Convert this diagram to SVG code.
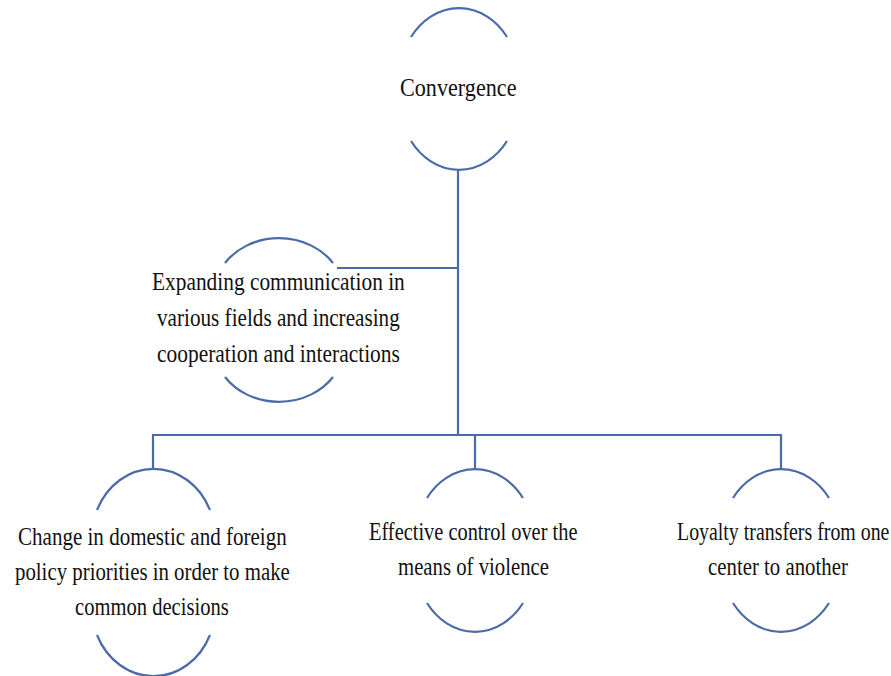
<svg xmlns="http://www.w3.org/2000/svg" width="891" height="676" viewBox="0 0 891 676">
<style>
.arc{fill:none;stroke:#4a6aa8;stroke-width:2.2}
.con{fill:none;stroke:#4a6aa8;stroke-width:2.2}
.t{font-family:"Liberation Serif","Times New Roman",serif;font-size:25px;fill:#111}
</style>
<rect width="891" height="676" fill="#fff"/>
<g id="connectors">
<path class="con" d="M458,169 V435"/>
<path class="con" d="M337,268 H458"/>
<path class="con" d="M153,468 V435 H781 V468"/>
<path class="con" d="M475,435 V468"/>
</g>
<g id="convergence">
<path class="arc" d="M411,37 A60,72 0 0 1 507,37"/>
<path class="arc" d="M411,141 A60,72 0 0 0 507,141"/>
<text class="t" transform="translate(400,96) scale(0.887,1)">Convergence</text>
</g>
<g id="expanding">
<path class="arc" d="M225,263 A65,56 0 0 1 333,263"/>
<path class="arc" d="M225,377 A65,56 0 0 0 333,377"/>
<text class="t" transform="translate(152,290) scale(0.855,1)">Expanding communication in</text>
<text class="t" transform="translate(157,326) scale(0.847,1)">various fields and increasing</text>
<text class="t" transform="translate(157,362) scale(0.858,1)">cooperation and interactions</text>
</g>
<g id="change">
<path class="arc" d="M97,510 A62,70 0 0 1 210,510"/>
<path class="arc" d="M97,635 A62,70 0 0 0 210,635"/>
<text class="t" transform="translate(18,545) scale(0.842,1)">Change in domestic and foreign</text>
<text class="t" transform="translate(15,580) scale(0.834,1)">policy priorities in order to make</text>
<text class="t" transform="translate(75,615) scale(0.824,1)">common decisions</text>
</g>
<g id="effective">
<path class="arc" d="M427,498 A60,72 0 0 1 523,498"/>
<path class="arc" d="M427,603 A60,72 0 0 0 523,603"/>
<text class="t" transform="translate(369,540) scale(0.816,1)">Effective control over the</text>
<text class="t" transform="translate(398,575) scale(0.83,1)">means of violence</text>
</g>
<g id="loyalty">
<path class="arc" d="M733,498 A60,72 0 0 1 829,498"/>
<path class="arc" d="M733,603 A60,72 0 0 0 829,603"/>
<text class="t" transform="translate(677,540) scale(0.795,1)">Loyalty transfers from one</text>
<text class="t" transform="translate(708,575) scale(0.833,1)">center to another</text>
</g>
</svg>
